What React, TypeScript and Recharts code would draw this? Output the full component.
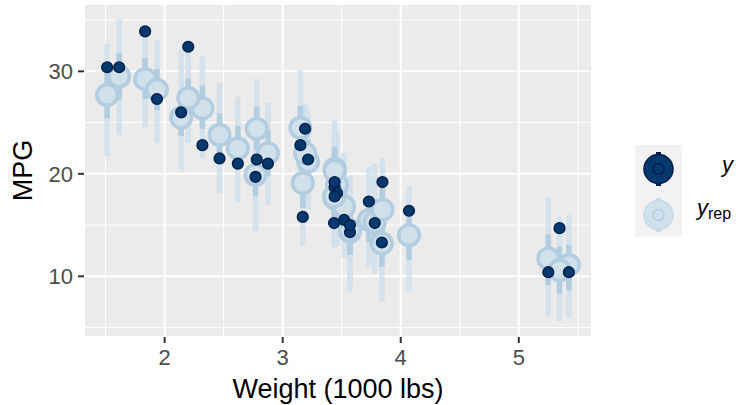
import React from "react";
import {
  CartesianGrid,
  ErrorBar,
  Legend,
  ReferenceLine,
  Scatter,
  ScatterChart,
  XAxis,
  YAxis,
} from "recharts";

// mtcars: weight (1000 lbs) and observed mpg
const weight = [
  2.62, 2.875, 2.32, 3.215, 3.44, 3.46, 3.57, 3.19, 3.15, 3.44, 3.44, 4.07,
  3.73, 3.78, 5.25, 5.424, 5.345, 2.2, 1.615, 1.835, 2.465, 3.52, 3.435, 3.84,
  3.845, 1.935, 2.14, 1.513, 3.17, 2.77, 3.57, 2.78,
];
const mpg = [
  21.0, 21.0, 22.8, 21.4, 18.7, 18.1, 14.3, 24.4, 22.8, 19.2, 17.8, 16.4,
  17.3, 15.2, 10.4, 10.4, 14.7, 32.4, 30.4, 33.9, 21.5, 15.5, 15.2, 13.3,
  19.2, 27.3, 26.0, 30.4, 15.8, 19.7, 15.0, 21.4,
];

// posterior predictive medians and intervals
const repMedian = [
  22.5, 22.0, 26.4, 21.2, 17.6, 18.9, 14.35, 22.0, 24.5, 20.5, 20.3, 14.0,
  15.5, 15.3, 11.75, 11.1, 10.6, 27.4, 29.5, 29.25, 23.8, 16.8, 17.8, 13.2,
  16.5, 28.2, 25.5, 27.7, 19.1, 19.9, 14.5, 24.4,
];
const repLow50 = [
  20.4, 19.8, 24.4, 19.1, 15.5, 16.7, 12.1, 19.8, 22.3, 18.3, 18.1, 11.6,
  13.3, 13.1, 9.15, 8.65, 8.3, 25.5, 27.2, 27.3, 21.7, 14.6, 15.6, 10.9,
  14.3, 26.2, 23.7, 25.4, 16.7, 17.8, 12.3, 22.3,
];
const repHigh50 = [
  24.7, 24.2, 28.6, 23.3, 19.8, 21.0, 16.6, 24.2, 26.6, 22.6, 22.5, 16.3,
  17.7, 17.5, 14.1, 13.05, 12.9, 29.3, 31.8, 31.3, 25.9, 19.0, 20.0, 15.4,
  18.7, 30.2, 27.5, 30.0, 21.4, 22.0, 16.8, 26.5,
];
const repLow90 = [
  17.2, 16.9, 21.5, 16.5, 12.8, 13.0, 8.5, 17.0, 19.6, 15.6, 15.4, 8.5,
  10.9, 10.3, 6.1, 6.0, 5.6, 23.0, 23.8, 24.5, 18.1, 11.8, 13.0, 7.5,
  11.5, 23.0, 20.4, 21.7, 13.0, 14.35, 9.5, 19.5,
];
const repHigh90 = [
  27.5, 26.9, 31.5, 26.2, 22.6, 24.0, 19.5, 26.9, 30.1, 25.3, 25.0, 18.8,
  20.7, 21.0, 17.7, 16.0, 15.8, 32.6, 35.1, 33.8, 28.9, 22.0, 23.2, 18.3,
  21.5, 33.05, 32.1, 32.7, 24.5, 25.0, 19.8, 29.2,
];

const xTicks = [2, 3, 4, 5];
const yTicks = [10, 20, 30];
const xMinor = [1.5, 2.5, 3.5, 4.5, 5.5];
const yMinor = [5, 15, 25, 35];

const repData = weight.map((w, i) => ({
  x: w,
  y: repMedian[i],
  outer: [repMedian[i] - repLow90[i], repHigh90[i] - repMedian[i]],
  inner: [repMedian[i] - repLow50[i], repHigh50[i] - repMedian[i]],
}));
const obsData = weight.map((w, i) => ({ x: w, y: mpg[i] }));

const FONT = "'Liberation Sans', Arial, sans-serif";

const RepPoint = (props: any) => (
  <circle cx={props.cx} cy={props.cy} r={10.3} fill="#d1e1ec" stroke="#b3cde0" strokeWidth={3.5} />
);
const ObsPoint = (props: any) => (
  <circle cx={props.cx} cy={props.cy} r={5.4} fill="#03396c" stroke="#011f4b" strokeWidth={1.4} />
);
const NoPoint = () => <g />;

const renderLegend = () => (
  <svg width={112} height={100} style={{ display: "block" }}>
    <rect x={5} y={5} width={47} height={92} fill="#F2F2F2" />
    <line x1={28.5} x2={28.5} y1={12} y2={46} stroke="#011f4b" strokeWidth={5} />
    <circle cx={28.5} cy={29} r={14.5} fill="#03396c" stroke="#011f4b" strokeWidth={1.5} />
    <circle cx={28.5} cy={29} r={5.5} fill="none" stroke="#011f4b" strokeWidth={1.5} />
    <line x1={28.5} x2={28.5} y1={58} y2={92} stroke="#c6d9e8" strokeWidth={5} />
    <circle cx={28.5} cy={75} r={14.5} fill="#d1e1ec" stroke="#c6d9e8" strokeWidth={1.5} />
    <circle cx={28.5} cy={75} r={5.5} fill="none" stroke="#b3cde0" strokeWidth={1.5} />
    <text x={92} y={31.5} fontFamily={FONT} fontSize={22} fontStyle="italic" fill="#000">
      y
    </text>
    <text x={67} y={74.5} fontFamily={FONT} fontSize={22} fill="#000">
      <tspan fontStyle="italic">y</tspan>
      <tspan fontSize={16} dy={4.5}>rep</tspan>
    </text>
  </svg>
);

export default function App() {
  return (
    <div style={{ position: "absolute", left: 0, top: 0, width: 742, height: 405, background: "#fff" }}>
      <ScatterChart width={742} height={405} margin={{ top: 4, right: 150, bottom: 0, left: 0 }}>
        <CartesianGrid stroke="#ffffff" strokeWidth={2} fill="#EBEBEB" fillOpacity={1} />
        {xMinor.map((v) => (
          <ReferenceLine key={"vx" + v} x={v} stroke="#ffffff" strokeWidth={1} />
        ))}
        {yMinor.map((v) => (
          <ReferenceLine key={"hy" + v} y={v} stroke="#ffffff" strokeWidth={1} />
        ))}
        <XAxis
          type="number"
          dataKey="x"
          domain={[1.317, 5.62]}
          ticks={xTicks}
          allowDataOverflow
          height={68}
          axisLine={false}
          tickSize={6}
          tickMargin={6}
          tickLine={{ stroke: "#333333", strokeWidth: 2 }}
          tick={{ fill: "#4D4D4D", fontSize: 22, fontFamily: FONT }}
          label={{
            content: (p: any) => (
              <text
                x={p.viewBox.x + p.viewBox.width / 2}
                y={p.viewBox.y + 61}
                textAnchor="middle"
                fontFamily={FONT}
                fontSize={27}
                fill="#000"
              >
                Weight (1000 lbs)
              </text>
            ),
          }}
        />
        <YAxis
          type="number"
          dataKey="y"
          domain={[4.08, 36.57]}
          ticks={yTicks}
          allowDataOverflow
          width={84}
          axisLine={false}
          tickSize={6}
          tickMargin={5}
          tickLine={{ stroke: "#333333", strokeWidth: 2 }}
          tick={{ fill: "#4D4D4D", fontSize: 22, fontFamily: FONT }}
          label={{
            content: (p: any) => (
              <text
                transform={`translate(${p.viewBox.x + 32}, ${p.viewBox.y + p.viewBox.height / 2}) rotate(-90)`}
                textAnchor="middle"
                fontFamily={FONT}
                fontSize={27}
                fill="#000"
              >
                MPG
              </text>
            ),
          }}
        />
        <Scatter name="outer" data={repData} shape={NoPoint} isAnimationActive={false} legendType="none">
          <ErrorBar dataKey="outer" direction="y" width={0} stroke="#d1e1ec" strokeOpacity={0.85} strokeWidth={5.5} isAnimationActive={false} />
        </Scatter>
        <Scatter name="inner" data={repData} shape={NoPoint} isAnimationActive={false} legendType="none">
          <ErrorBar dataKey="inner" direction="y" width={0} stroke="#b3cde0" strokeWidth={5.5} isAnimationActive={false} />
        </Scatter>
        <Scatter name="yrep" data={repData} shape={RepPoint} isAnimationActive={false} />
        <Scatter name="y" data={obsData} shape={ObsPoint} isAnimationActive={false} />
        <Legend
          layout="vertical"
          align="center"
          verticalAlign="middle"
          content={renderLegend}
          wrapperStyle={{ left: 630, top: 140, width: 112 }}
        />
      </ScatterChart>
    </div>
  );
}
